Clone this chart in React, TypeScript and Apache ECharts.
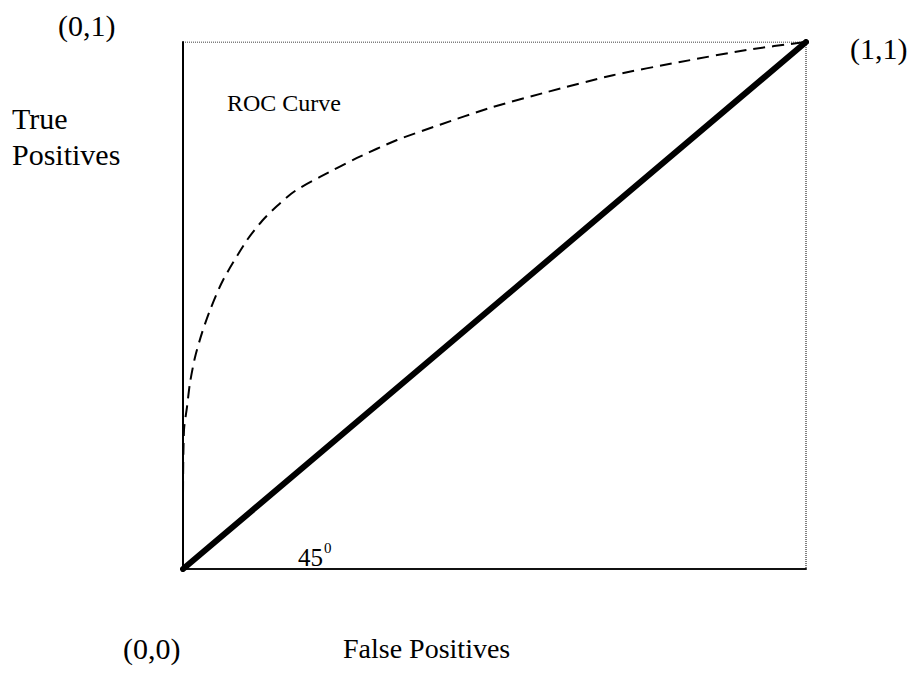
import React, { useEffect, useRef } from "react";
import * as echarts from "echarts";

// ROC curve (false positive rate, true positive rate)
const rocFpr = [0, 0, 0.0016, 0.0064, 0.0112, 0.0193, 0.0305, 0.0433, 0.0642, 0.1027, 0.1268, 0.1509, 0.1798, 0.2199, 0.2793, 0.3435, 0.4125, 0.4928, 0.5843, 0.6902, 0.7978, 0.9053, 1];
const rocTpr = [0, 0.131, 0.264, 0.307, 0.353, 0.402, 0.448, 0.491, 0.548, 0.624, 0.6603, 0.6888, 0.7173, 0.744, 0.78, 0.814, 0.843, 0.875, 0.905, 0.937, 0.962, 0.985, 1];
// 45 degree chance line
const chanceFpr = [0, 1];
const chanceTpr = [0, 1];
// dotted frame (top and right)
const frameX = [0, 1, 1];
const frameY = [1, 1, 0];

const SERIF = "'Liberation Serif', 'Times New Roman', serif";

export default function App() {
  const ref = useRef<HTMLDivElement>(null);
  useEffect(() => {
    if (!ref.current) return;
    const chart = echarts.init(ref.current, null, { renderer: "svg" });
    const gl = 183, gt = 42, gw = 623, gh = 527;
    const txt = (text: string, x: number, y: number, size: number) => ({
      type: "text",
      x,
      y,
      style: {
        text,
        fill: "#000",
        font: `${size}px ${SERIF}`,
        verticalAlign: "middle",
        align: "left",
      },
    });
    chart.setOption({
      animation: false,
      backgroundColor: "#fff",
      grid: { left: gl, top: gt, width: gw, height: gh },
      xAxis: {
        type: "value",
        min: 0,
        max: 1,
        axisLine: { show: true, onZero: false, lineStyle: { color: "#111", width: 2 } },
        axisTick: { show: false },
        axisLabel: { show: false },
        splitLine: { show: false },
      },
      yAxis: {
        type: "value",
        min: 0,
        max: 1,
        axisLine: { show: true, onZero: false, lineStyle: { color: "#000", width: 2 } },
        axisTick: { show: false },
        axisLabel: { show: false },
        splitLine: { show: false },
      },
      series: [
        {
          type: "line",
          data: frameX.map((x, i) => [x, frameY[i]]),
          symbol: "none",
          lineStyle: { color: "#000", width: 1, type: [1, 1] },
          z: 1,
        },
        {
          type: "line",
          data: rocFpr.map((x, i) => [x, rocTpr[i]]),
          symbol: "none",
          smooth: 0.25,
          lineStyle: { color: "#000", width: 2, type: [12, 7] },
          z: 2,
        },
        {
          type: "line",
          data: chanceFpr.map((x, i) => [x, chanceTpr[i]]),
          symbol: "none",
          lineStyle: { color: "#000", width: 6, cap: "round" },
          z: 3,
        },
      ],
      graphic: [
        txt("(0,1)", 58, 25, 30),
        txt("(1,1)", 850, 48, 30),
        txt("(0,0)", 123, 648, 30),
        txt("True", 12, 118, 30),
        txt("Positives", 12, 154, 30),
        txt("False Positives", 343, 648, 28),
        txt("ROC Curve", 227, 103, 24),
        txt("45", 298, 557, 25),
        txt("0", 324, 548, 15),
      ],
    });
    return () => chart.dispose();
  }, []);
  return <div ref={ref} style={{ width: 914, height: 675, position: "absolute", left: 0, top: 0 }} />;
}
